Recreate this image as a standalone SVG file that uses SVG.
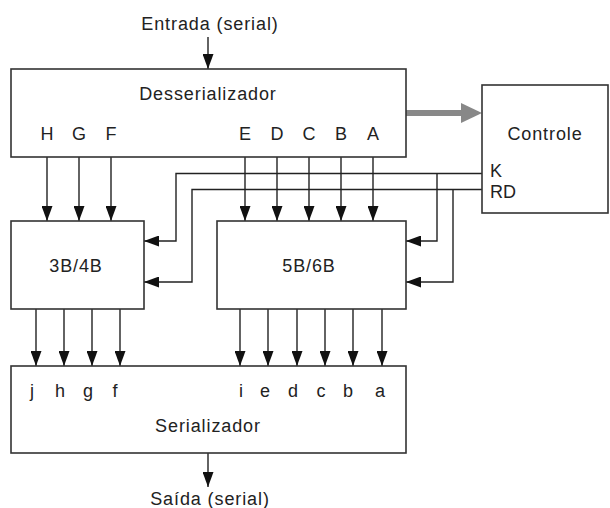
<svg xmlns="http://www.w3.org/2000/svg" width="610" height="508" viewBox="0 0 610 508">
<style>
.box{fill:#fff;stroke:#333;stroke-width:1.6}
.ln{fill:none;stroke:#222;stroke-width:1.4}
.t{font-family:"Liberation Sans",Arial,sans-serif;font-size:18px;fill:#222;letter-spacing:0.9px}
.s{font-family:"Liberation Sans",Arial,sans-serif;font-size:18px;fill:#222}
.m{text-anchor:middle}
</style>
<defs>
<marker id="ah" markerUnits="userSpaceOnUse" markerWidth="15" markerHeight="11" refX="15" refY="5.5" orient="auto">
<path d="M0,0 L15,5.5 L0,11 z" fill="#111"/>
</marker>
</defs>
<rect width="610" height="508" fill="#fff"/>

<g id="connectors">
<line class="ln" x1="208" y1="37" x2="208" y2="69" marker-end="url(#ah)"/>
<line x1="406" y1="113" x2="464" y2="113" stroke="#888" stroke-width="6"/>
<path d="M461,103 L482,113 L461,123 z" fill="#888"/>
<g class="ln" marker-end="url(#ah)">
<line x1="47" y1="157" x2="47" y2="221"/>
<line x1="79" y1="157" x2="79" y2="221"/>
<line x1="111" y1="157" x2="111" y2="221"/>
<line x1="245" y1="157" x2="245" y2="221"/>
<line x1="277" y1="157" x2="277" y2="221"/>
<line x1="309" y1="157" x2="309" y2="221"/>
<line x1="341" y1="157" x2="341" y2="221"/>
<line x1="373" y1="157" x2="373" y2="221"/>
<polyline points="482,173.5 176,173.5 176,241 144,241"/>
<polyline points="437,173.5 437,241 406,241"/>
<polyline points="482,189.5 192,189.5 192,282 144,282"/>
<polyline points="453,189.5 453,282 406,282"/>
<line x1="36" y1="309" x2="36" y2="366"/>
<line x1="64" y1="309" x2="64" y2="366"/>
<line x1="92" y1="309" x2="92" y2="366"/>
<line x1="120" y1="309" x2="120" y2="366"/>
<line x1="240" y1="309" x2="240" y2="366"/>
<line x1="268" y1="309" x2="268" y2="366"/>
<line x1="297" y1="309" x2="297" y2="366"/>
<line x1="325" y1="309" x2="325" y2="366"/>
<line x1="353" y1="309" x2="353" y2="366"/>
<line x1="382" y1="309" x2="382" y2="366"/>
<line x1="208" y1="453" x2="208" y2="487"/>
</g>
</g>

<text class="t m" x="210" y="30">Entrada (serial)</text>

<g id="desserializador">
<rect class="box" x="11" y="69" width="395" height="88"/>
<text class="t m" x="208" y="100">Desserializador</text>
<text class="s m" x="47" y="140">H</text>
<text class="s m" x="79" y="140">G</text>
<text class="s m" x="111" y="140">F</text>
<text class="s m" x="245" y="140">E</text>
<text class="s m" x="277" y="140">D</text>
<text class="s m" x="309" y="140">C</text>
<text class="s m" x="341" y="140">B</text>
<text class="s m" x="373" y="140">A</text>
</g>

<g id="controle">
<rect class="box" x="482" y="85" width="126" height="128"/>
<text class="t m" x="545" y="140">Controle</text>
<text class="s" x="490" y="177">K</text>
<text class="s" x="490" y="198">RD</text>
</g>

<g id="enc3b4b">
<rect class="box" x="11" y="221" width="133" height="88"/>
<text class="t m" x="76" y="272">3B/4B</text>
</g>

<g id="enc5b6b">
<rect class="box" x="217" y="221" width="189" height="88"/>
<text class="t m" x="309" y="272">5B/6B</text>
</g>

<g id="serializador">
<rect class="box" x="11" y="366" width="395" height="87"/>
<text class="s m" x="32" y="397">j</text>
<text class="s m" x="60" y="397">h</text>
<text class="s m" x="88" y="397">g</text>
<text class="s m" x="115" y="397">f</text>
<text class="s m" x="241" y="397">i</text>
<text class="s m" x="265" y="397">e</text>
<text class="s m" x="293" y="397">d</text>
<text class="s m" x="321" y="397">c</text>
<text class="s m" x="348" y="397">b</text>
<text class="s m" x="380" y="397">a</text>
<text class="t m" x="208" y="432">Serializador</text>
</g>

<text class="t m" x="210" y="505">Saída (serial)</text>
</svg>
